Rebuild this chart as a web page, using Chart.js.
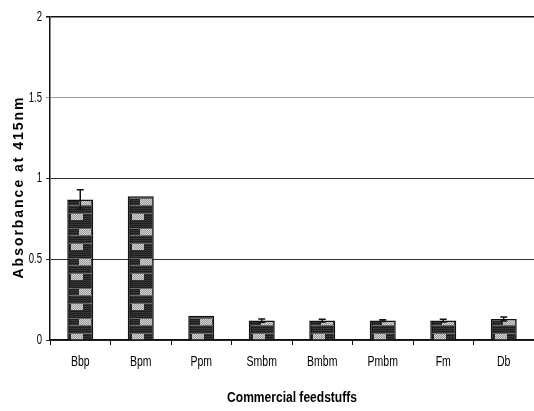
<!DOCTYPE html>
<html>
<head>
<meta charset="utf-8">
<script src="https://cdn.jsdelivr.net/npm/chart.js@4/dist/chart.umd.min.js"></script>
<style>
  html, body { margin: 0; padding: 0; background: #fff; }
  #wrap { width: 534px; height: 411px; }
</style>
</head>
<body>
<div id="wrap"><canvas id="c" width="534" height="411"></canvas></div>
<script>
// Feedstuff samples and their mean absorbance with standard error
const categories = ['Bbp', 'Bpm', 'Ppm', 'Smbm', 'Bmbm', 'Pmbm', 'Fm', 'Db'];
const absorbance = [0.87, 0.89, 0.15, 0.12, 0.12, 0.12, 0.12, 0.13];
const errors = [0.06, 0, 0, 0.01, 0.008, 0.006, 0.008, 0.012];
const yTickValues = [0, 0.5, 1, 1.5, 2];
const yTickLabels = ['0', '0.5', '1', '1.5', '2'];

const sans = '"Liberation Sans", Arial, sans-serif';

// Dark plaid tile with light grey patches, used as bar fill
function makeTile() {
  const w = 26, h = 30;
  const t = document.createElement('canvas');
  t.width = w; t.height = h;
  const g = t.getContext('2d');
  g.fillStyle = '#1a1a1a';
  g.fillRect(0, 0, w, h);
  // fine line texture
  g.fillStyle = '#3c3c3c';
  for (let y = 0; y < h; y += 2) g.fillRect(3, y, w - 5, 1);
  g.fillStyle = '#2a2a2a';
  for (let x = 4; x < w - 2; x += 3) g.fillRect(x, 0, 1, h);
  // medium grey bands beside patch rows
  g.fillStyle = '#6a6a6a';
  g.fillRect(2, 8, w - 3, 1); g.fillRect(2, 15, w - 3, 1);
  g.fillRect(2, 23, w - 3, 1);
  // light patches
  function patch(x, y, pw, ph) {
    g.fillStyle = '#d2d2d2';
    g.fillRect(x, y, pw, ph);
    g.fillStyle = '#9c9c9c';
    for (let yy = y; yy < y + ph; yy++) for (let xx = x + ((yy - y) % 2); xx < x + pw; xx += 2) g.fillRect(xx, yy, 1, 1);
  }
  patch(12, 9, 12, 6);
  patch(4, 24, 12, 6);
  return t;
}
const tile = makeTile();

function barFill(ctx) {
  const chart = ctx.chart;
  const p = chart.ctx.createPattern(tile, 'repeat');
  const xs = chart.scales.x, ys = chart.scales.y;
  if (xs && ys && ctx.dataIndex !== undefined && xs.width) {
    const cx = xs.getPixelForValue(ctx.dataIndex);
    const left = cx - 13;
    const bottom = ys.getPixelForValue(0);
    p.setTransform(new DOMMatrix().translate(Math.round(left), Math.round(bottom)));
  }
  return p;
}

// Error bars drawn from the errors array on top of each bar
const errorBars = {
  id: 'errorBars',
  afterDatasetsDraw(chart) {
    const c = chart.ctx, xs = chart.scales.x, ys = chart.scales.y;
    c.save();
    c.strokeStyle = '#111';
    c.lineWidth = 1.5;
    absorbance.forEach((v, i) => {
      const e = errors[i];
      if (!e) return;
      const x = xs.getPixelForValue(i);
      const yt = ys.getPixelForValue(v + e);
      const yb = ys.getPixelForValue(v - e);
      c.beginPath();
      c.moveTo(x, yb); c.lineTo(x, yt);
      c.moveTo(x - 3.5, yt); c.lineTo(x + 3.5, yt);
      c.moveTo(x - 3.5, yb); c.lineTo(x + 3.5, yb);
      c.stroke();
    });
    c.restore();
  }
};

// Condensed tick labels placed at the scales' own tick positions
function condensedText(c, text, x, y, sx, align) {
  c.save();
  c.translate(x, y);
  c.scale(sx, 1);
  c.textAlign = align;
  c.fillText(text, 0, 0);
  c.restore();
}

const tickText = {
  id: 'tickText',
  afterDraw(chart) {
    const c = chart.ctx, xs = chart.scales.x, ys = chart.scales.y;
    c.save();
    c.fillStyle = '#000';
    c.textBaseline = 'middle';
    c.font = '14px ' + sans;
    yTickValues.forEach((v, i) => {
      condensedText(c, yTickLabels[i], ys.left + ys.width - 8, ys.getPixelForValue(v), 0.68, 'right');
    });
    categories.forEach((lab, i) => {
      condensedText(c, lab, xs.getPixelForValue(i), xs.top + 22, 0.75, 'center');
    });
    c.restore();
  }
};

// Axis titles: spaced-out vertical y title and condensed x title
const axisTitles = {
  id: 'axisTitles',
  afterDraw(chart) {
    const c = chart.ctx, area = chart.chartArea;
    c.save();
    c.fillStyle = '#000';
    c.textBaseline = 'middle';
    c.font = 'bold 14px ' + sans;
    condensedText(c, 'Commercial feedstuffs', (area.left + area.right) / 2, 398, 0.86, 'center');

    const yt = 'Absorbance at 415nm';
    c.font = 'bold 14px ' + sans;
    c.letterSpacing = '0px';
    const natural = c.measureText(yt).width;
    const spacing = Math.max(0, (181 - natural) / (yt.length - 1));
    c.letterSpacing = spacing.toFixed(2) + 'px';
    c.translate(19, 188);
    c.rotate(-Math.PI / 2);
    c.textAlign = 'left';
    const full = c.measureText(yt).width - spacing;
    c.fillText(yt, -full / 2, 0);
    c.restore();
  }
};

new Chart(document.getElementById('c'), {
  type: 'bar',
  data: {
    labels: categories,
    datasets: [{
      data: absorbance,
      backgroundColor: barFill,
      borderColor: '#111',
      borderWidth: 1.5,
      borderSkipped: 'bottom',
      categoryPercentage: 1,
      barPercentage: 0.43
    }]
  },
  options: {
    responsive: false,
    animation: false,
    devicePixelRatio: 1,
    layout: { padding: { top: 17, right: 0, left: 0, bottom: 0 } },
    plugins: { legend: { display: false }, tooltip: { enabled: false } },
    scales: {
      x: {
        afterFit(s) { s.height = 71; },
        grid: { offset: true, drawOnChartArea: false, tickLength: 5, color: '#111', lineWidth: 1 },
        border: { color: '#111', width: 1.5 },
        ticks: { display: false }
      },
      y: {
        min: 0, max: 2,
        afterFit(s) { s.width = 50; },
        afterBuildTicks(s) { s.ticks = yTickValues.map(v => ({ value: v })); },
        grid: {
          tickLength: 4,
          color: (ctx) => {
            const v = ctx.tick ? ctx.tick.value : 0;
            if (v === 1.5) return '#9a9a9a';
            if (v === 2) return '#111';
            return '#333';
          },
          lineWidth: (ctx) => (ctx.tick && ctx.tick.value === 2) ? 1.5 : 1
        },
        border: { color: '#111', width: 1.5 },
        ticks: { display: false }
      }
    }
  },
  plugins: [errorBars, tickText, axisTitles]
});
</script>
</body>
</html>
